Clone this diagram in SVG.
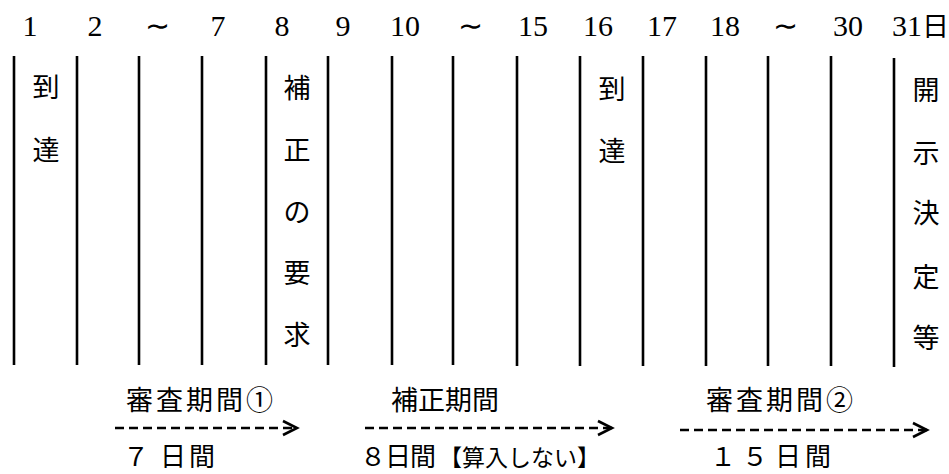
<svg xmlns="http://www.w3.org/2000/svg" width="949" height="474" viewBox="0 0 949 474">
<style>
.num{font-family:"Liberation Serif","Noto Serif CJK JP","Noto Sans CJK JP",serif;font-size:30px;fill:#000;text-anchor:middle}
.jp{font-family:"Noto Sans CJK JP",sans-serif;font-size:27px;fill:#000}
.v{text-anchor:middle}
.day{stroke:#000;stroke-width:2.6;fill:none}
.arr{stroke:#000;stroke-width:2.6;fill:none;stroke-dasharray:9 5}
</style>
<defs>
<marker id="chev" markerUnits="userSpaceOnUse" markerWidth="20" markerHeight="20" refX="16" refY="10" orient="auto">
<polyline points="2,3 16,10 2,17" fill="none" stroke="#000" stroke-width="2.6"/>
</marker>
</defs>
<rect width="949" height="474" fill="#fff"/>
<g id="dates">
<text class="num" x="30" y="36">1</text>
<text class="num" x="95" y="36">2</text>
<text class="num" x="157" y="36">∼</text>
<text class="num" x="218" y="36">7</text>
<text class="num" x="282" y="36">8</text>
<text class="num" x="343" y="36">9</text>
<text class="num" x="405" y="36">10</text>
<text class="num" x="470" y="36">∼</text>
<text class="num" x="533" y="36">15</text>
<text class="num" x="598" y="36">16</text>
<text class="num" x="662" y="36">17</text>
<text class="num" x="725" y="36">18</text>
<text class="num" x="785" y="36">∼</text>
<text class="num" x="848" y="36">30</text>
<text class="num" x="892" y="36" style="text-anchor:start">31<tspan style="font-family:'Noto Sans CJK JP',sans-serif;font-size:27px">日</tspan></text>
</g>
<g id="day-lines">
<line class="day" x1="14" y1="56" x2="14" y2="365"/>
<line class="day" x1="77" y1="56" x2="77" y2="365"/>
<line class="day" x1="139" y1="56" x2="139" y2="365"/>
<line class="day" x1="202" y1="56" x2="202" y2="365"/>
<line class="day" x1="266" y1="56" x2="266" y2="365"/>
<line class="day" x1="328" y1="56" x2="328" y2="365"/>
<line class="day" x1="392" y1="56" x2="392" y2="365"/>
<line class="day" x1="453" y1="56" x2="453" y2="365"/>
<line class="day" x1="517" y1="56" x2="517" y2="366"/>
<line class="day" x1="580" y1="56" x2="580" y2="366"/>
<line class="day" x1="643" y1="56" x2="643" y2="366"/>
<line class="day" x1="706" y1="56" x2="706" y2="366"/>
<line class="day" x1="768" y1="56" x2="768" y2="366"/>
<line class="day" x1="831" y1="56" x2="831" y2="366"/>
<line class="day" x1="894" y1="58" x2="894" y2="367"/>
</g>
<g id="arrival1">
<text class="jp v" x="46" y="97">到</text>
<text class="jp v" x="46" y="160">達</text>
</g>
<g id="correction-request">
<text class="jp v" x="297" y="98">補</text>
<text class="jp v" x="297" y="160">正</text>
<text class="jp v" x="297" y="222">の</text>
<text class="jp v" x="297" y="283">要</text>
<text class="jp v" x="297" y="345">求</text>
</g>
<g id="arrival2">
<text class="jp v" x="612" y="99">到</text>
<text class="jp v" x="612" y="161">達</text>
</g>
<g id="decision">
<text class="jp v" x="926" y="100">開</text>
<text class="jp v" x="926" y="163">示</text>
<text class="jp v" x="926" y="223">決</text>
<text class="jp v" x="926" y="287">定</text>
<text class="jp v" x="926" y="348">等</text>
</g>
<g id="period1">
<text class="jp" x="126" y="410" style="letter-spacing:3px">審査期間①</text>
<text class="jp" y="466" style="font-size:26px"><tspan x="123">７</tspan><tspan x="160">日</tspan><tspan x="189">間</tspan></text>
</g>
<g id="period2">
<text class="jp" x="391" y="410">補正期間</text>
<text class="jp" y="466" style="font-size:26px"><tspan x="360">８</tspan><tspan x="385">日</tspan><tspan x="410">間</tspan></text>
<text class="jp" x="439" y="466" style="font-size:23px">【算入しない】</text>
</g>
<g id="period3">
<text class="jp" x="706" y="410" style="letter-spacing:3px">審査期間②</text>
<text class="jp" y="466" style="font-size:26px"><tspan x="710">１</tspan><tspan x="742">５</tspan><tspan x="775">日</tspan><tspan x="805">間</tspan></text>
</g>
<g id="connectors">
<line class="arr" x1="115" y1="428" x2="297" y2="428" marker-end="url(#chev)"/>
<line class="arr" x1="365" y1="428" x2="612" y2="428" marker-end="url(#chev)"/>
<line class="arr" x1="680" y1="430" x2="927" y2="430" marker-end="url(#chev)"/>
</g>
</svg>
